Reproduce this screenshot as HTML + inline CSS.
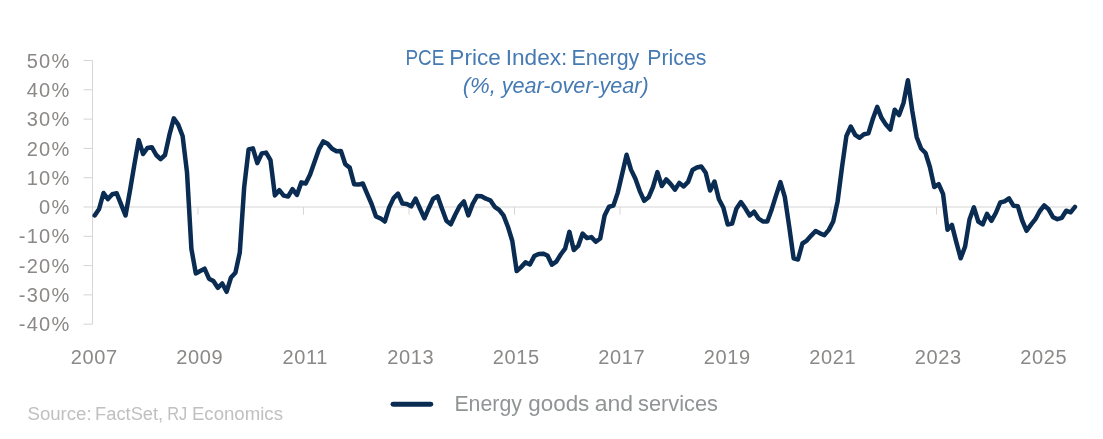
<!DOCTYPE html>
<html lang="en"><head><meta charset="utf-8"><title>PCE Price Index: Energy Prices</title>
<style>
html,body{margin:0;padding:0;background:#fff;}
body{width:1103px;height:439px;overflow:hidden;}
svg{display:block;}
text{font-family:"Liberation Sans",sans-serif;}
</style></head><body>
<svg width="1103" height="439" viewBox="0 0 1103 439">
<rect width="1103" height="439" fill="#ffffff"/>

<g stroke="#d5d5d5" stroke-width="1" fill="none">
<line x1="92.5" y1="60.5" x2="92.5" y2="324.2"/>
<line x1="83.5" y1="324.2" x2="92.5" y2="324.2"/>
<line x1="83.5" y1="294.9" x2="92.5" y2="294.9"/>
<line x1="83.5" y1="265.6" x2="92.5" y2="265.6"/>
<line x1="83.5" y1="236.3" x2="92.5" y2="236.3"/>
<line x1="83.5" y1="207.0" x2="92.5" y2="207.0"/>
<line x1="83.5" y1="177.7" x2="92.5" y2="177.7"/>
<line x1="83.5" y1="148.4" x2="92.5" y2="148.4"/>
<line x1="83.5" y1="119.1" x2="92.5" y2="119.1"/>
<line x1="83.5" y1="89.8" x2="92.5" y2="89.8"/>
<line x1="83.5" y1="60.5" x2="92.5" y2="60.5"/>
<line x1="92.5" y1="207.0" x2="1077" y2="207.0"/>
<line x1="92.5" y1="207.0" x2="92.5" y2="214.6"/>
<line x1="198.0" y1="207.0" x2="198.0" y2="214.6"/>
<line x1="303.5" y1="207.0" x2="303.5" y2="214.6"/>
<line x1="409.0" y1="207.0" x2="409.0" y2="214.6"/>
<line x1="514.5" y1="207.0" x2="514.5" y2="214.6"/>
<line x1="620.0" y1="207.0" x2="620.0" y2="214.6"/>
<line x1="725.5" y1="207.0" x2="725.5" y2="214.6"/>
<line x1="831.0" y1="207.0" x2="831.0" y2="214.6"/>
<line x1="936.5" y1="207.0" x2="936.5" y2="214.6"/>
<line x1="1042.0" y1="207.0" x2="1042.0" y2="214.6"/>
</g>
<g fill="#8b8987" font-size="20" text-anchor="end" letter-spacing="1.3">
<text x="70.6" y="67.6">50%</text>
<text x="70.6" y="96.9">40%</text>
<text x="70.6" y="126.2">30%</text>
<text x="70.6" y="155.5">20%</text>
<text x="70.6" y="184.8">10%</text>
<text x="70.6" y="214.1">0%</text>
<text x="70.6" y="243.4">-10%</text>
<text x="70.6" y="272.7">-20%</text>
<text x="70.6" y="302.0">-30%</text>
<text x="70.6" y="331.3">-40%</text>
</g>
<g fill="#8b8987" font-size="20" text-anchor="middle" letter-spacing="0.6">
<text x="94.3" y="364.2">2007</text>
<text x="199.8" y="364.2">2009</text>
<text x="305.3" y="364.2">2011</text>
<text x="410.8" y="364.2">2013</text>
<text x="516.3" y="364.2">2015</text>
<text x="621.8" y="364.2">2017</text>
<text x="727.3" y="364.2">2019</text>
<text x="832.8" y="364.2">2021</text>
<text x="938.3" y="364.2">2023</text>
<text x="1043.8" y="364.2">2025</text>
</g>
<text y="64.6" fill="#467ab3" font-size="22.1"><tspan x="405.39" textLength="38.91" lengthAdjust="spacingAndGlyphs">PCE</tspan> <tspan x="449.39" textLength="51.40" lengthAdjust="spacingAndGlyphs">Price</tspan> <tspan x="505.75" textLength="61.55" lengthAdjust="spacingAndGlyphs">Index:</tspan> <tspan x="571.48" textLength="67.85" lengthAdjust="spacingAndGlyphs">Energy</tspan> <tspan x="647.30" textLength="59.04" lengthAdjust="spacingAndGlyphs">Prices</tspan></text>
<text y="93.2" fill="#467ab3" font-size="22.1" font-style="italic"><tspan x="462.70" textLength="33.25" lengthAdjust="spacingAndGlyphs">(%,</tspan> <tspan x="501.72" textLength="146.89" lengthAdjust="spacingAndGlyphs">year-over-year)</tspan></text>
<text y="410.9" fill="#8f9494" font-size="22"><tspan x="454.41" textLength="67.48" lengthAdjust="spacingAndGlyphs">Energy</tspan> <tspan x="528.21" textLength="61.14" lengthAdjust="spacingAndGlyphs">goods</tspan> <tspan x="594.65" textLength="38.38" lengthAdjust="spacingAndGlyphs">and</tspan> <tspan x="638.08" textLength="79.82" lengthAdjust="spacingAndGlyphs">services</tspan></text>
<text y="419.8" fill="#c0c0c0" font-size="18"><tspan x="27.50" textLength="64.13" lengthAdjust="spacingAndGlyphs">Source:</tspan> <tspan x="95.08" textLength="68.11" lengthAdjust="spacingAndGlyphs">FactSet,</tspan> <tspan x="167.24" textLength="20.02" lengthAdjust="spacingAndGlyphs">RJ</tspan> <tspan x="191.95" textLength="91.03" lengthAdjust="spacingAndGlyphs">Economics</tspan></text>
<polyline points="94.7,215.5 99.1,209.0 103.5,193.0 107.9,199.1 112.3,194.3 116.7,193.3 121.1,204.3 125.5,215.5 129.9,191.2 134.3,165.0 138.7,140.1 143.1,154.0 147.4,148.0 151.8,147.2 156.2,155.0 160.6,159.2 165.0,155.0 169.4,134.9 173.8,118.4 178.2,124.6 182.6,136.0 187.0,172.2 191.4,248.8 195.8,273.4 200.2,271.0 204.6,268.7 209.0,278.7 213.4,281.1 217.8,287.8 222.2,283.5 226.6,291.8 231.0,277.5 235.4,272.7 239.8,252.4 244.2,187.0 248.6,149.5 252.9,148.3 257.3,163.1 261.7,153.5 266.1,152.6 270.5,160.2 274.9,195.4 279.3,190.2 283.7,195.6 288.1,196.5 292.5,189.2 296.9,194.9 301.3,182.4 305.7,183.5 310.1,174.4 314.5,161.9 318.9,149.4 323.3,141.4 327.7,143.7 332.1,148.7 336.5,151.2 340.9,150.9 345.3,164.2 349.7,167.6 354.1,184.2 358.4,184.6 362.8,183.5 367.2,193.8 371.6,204.0 376.0,216.5 380.4,218.3 384.8,221.5 389.2,207.4 393.6,198.1 398.0,193.6 402.4,203.5 406.8,203.9 411.2,206.3 415.6,198.7 420.0,208.7 424.4,218.3 428.8,208.2 433.2,198.7 437.6,196.3 442.0,208.7 446.4,220.7 450.8,224.3 455.2,214.7 459.6,206.3 463.9,201.5 468.3,215.4 472.7,203.9 477.1,196.0 481.5,196.3 485.9,198.7 490.3,200.3 494.7,206.8 499.1,209.9 503.5,215.4 507.9,226.7 512.3,241.0 516.7,271.1 521.1,267.1 525.5,262.4 529.9,264.5 534.3,256.1 538.7,253.9 543.1,253.7 547.5,255.5 551.9,264.7 556.3,261.7 560.7,254.5 565.1,248.7 569.4,231.9 573.8,250.0 578.2,245.9 582.6,233.6 587.0,238.1 591.4,237.1 595.8,241.8 600.2,238.5 604.6,215.5 609.0,206.7 613.4,205.6 617.8,192.6 622.2,173.7 626.6,154.8 631.0,169.6 635.4,178.8 639.8,191.1 644.2,200.8 648.6,197.3 653.0,187.0 657.4,172.1 661.8,186.0 666.2,179.4 670.5,183.9 674.9,189.7 679.3,182.9 683.7,186.4 688.1,181.9 692.5,170.0 696.9,167.5 701.3,166.5 705.7,172.7 710.1,190.5 714.5,181.5 718.9,199.3 723.3,207.5 727.7,224.5 732.1,223.5 736.5,208.4 740.9,202.0 745.3,208.3 749.7,215.5 754.1,211.7 758.5,218.5 762.9,221.5 767.3,221.5 771.7,209.4 776.0,195.7 780.4,182.1 784.8,196.9 789.2,226.5 793.6,258.3 798.0,259.5 802.4,243.5 806.8,240.6 811.2,235.6 815.6,231.0 820.0,233.3 824.4,235.1 828.8,229.9 833.2,221.5 837.6,201.4 842.0,167.3 846.4,136.0 850.8,126.5 855.2,134.9 859.6,137.8 864.0,134.2 868.4,133.3 872.8,119.0 877.2,106.9 881.5,117.8 885.9,124.6 890.3,129.6 894.7,109.8 899.1,115.1 903.5,103.0 907.9,80.2 912.3,111.0 916.7,137.2 921.1,148.5 925.5,153.0 929.9,167.0 934.3,187.0 938.7,184.2 943.1,194.2 947.5,229.8 951.9,224.9 956.3,242.1 960.7,258.3 965.1,246.5 969.5,219.5 973.9,207.3 978.3,221.5 982.7,224.4 987.0,213.9 991.4,220.8 995.8,213.0 1000.2,202.5 1004.6,201.4 1009.0,198.3 1013.4,205.7 1017.8,206.2 1022.2,220.5 1026.6,230.8 1031.0,224.6 1035.4,219.2 1039.8,211.0 1044.2,205.5 1048.6,209.3 1053.0,217.1 1057.4,219.2 1061.8,217.8 1066.2,210.7 1070.6,212.3 1075.0,206.9" fill="none" stroke="#0a2c52" stroke-width="4.5" stroke-linejoin="round" stroke-linecap="round"/>
<line x1="393" y1="404.3" x2="430.8" y2="404.3" stroke="#0a2c52" stroke-width="4.9" stroke-linecap="round"/>
</svg>
</body></html>
